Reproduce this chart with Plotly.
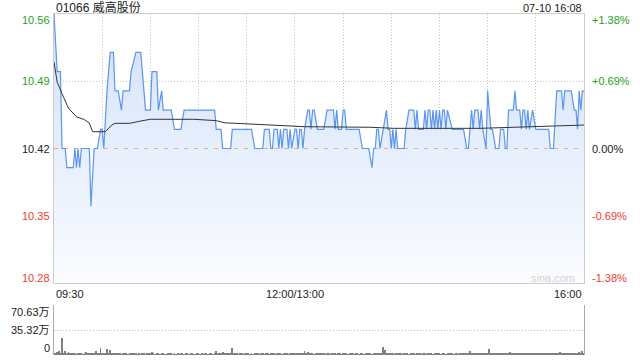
import plotly.graph_objects as go

# ---------------- data ----------------
title_text = "01066 威高股份"
date_text = "07-10 16:08"
prev_close = 10.42
price_ticks = [10.56, 10.49, 10.42, 10.35, 10.28]
pct_ticks = ["+1.38%", "+0.69%", "0.00%", "-0.69%", "-1.38%"]
time_labels = ["09:30", "12:00/13:00", "16:00"]
time_label_pos = [0, 150, 330]
vol_ticks = [70.63, 35.32, 0]
vol_tick_text = ["70.63万", "35.32万", "0"]

# (minute since 09:30 trading time, price)
price_points = [
    (0, 10.56), (2, 10.50), (4, 10.50), (5, 10.42), (7, 10.42), (8, 10.40), (12, 10.40),
    (13, 10.42), (14, 10.40), (15, 10.42), (16, 10.40), (17, 10.42), (22, 10.42), (23, 10.36),
    (25, 10.42), (27, 10.42), (29, 10.44), (30, 10.44), (31, 10.42), (33, 10.48), (35, 10.52),
    (37, 10.52), (38, 10.48), (40, 10.48), (42, 10.46), (43, 10.48), (47, 10.48), (48, 10.50),
    (51, 10.52), (54, 10.52), (57, 10.46), (60, 10.46), (61, 10.50), (64, 10.50), (65, 10.46),
    (67, 10.48), (68, 10.46), (73, 10.46), (75, 10.44), (79, 10.44), (81, 10.46), (100, 10.46),
    (101, 10.44), (104, 10.44), (105, 10.42), (110, 10.42), (111, 10.44), (123, 10.44),
    (125, 10.42), (130, 10.42), (131, 10.44), (134, 10.44), (135, 10.42), (136, 10.42),
    (137, 10.44), (139, 10.44), (140, 10.42), (141, 10.44), (142, 10.42), (143, 10.44),
    (145, 10.44), (146, 10.42), (147, 10.44), (148, 10.42), (150, 10.44), (151, 10.44),
    (152, 10.42), (153, 10.44), (154, 10.44), (155, 10.42), (156, 10.44), (158, 10.46),
    (159, 10.46), (160, 10.44), (161, 10.46), (162, 10.46), (164, 10.44), (168, 10.44),
    (170, 10.46), (174, 10.46), (175, 10.44), (176, 10.46), (177, 10.44), (179, 10.44),
    (180, 10.46), (181, 10.46), (182, 10.44), (190, 10.44), (192, 10.42), (196, 10.42),
    (198, 10.40), (199, 10.42), (200, 10.42), (201, 10.44), (202, 10.44), (203, 10.42),
    (205, 10.44), (207, 10.46), (208, 10.44), (209, 10.44), (210, 10.42), (211, 10.44),
    (212, 10.42), (213, 10.44), (214, 10.42), (218, 10.42), (219, 10.44), (221, 10.46),
    (224, 10.46), (225, 10.44), (226, 10.46), (227, 10.44), (230, 10.44), (231, 10.46),
    (232, 10.44), (233, 10.46), (234, 10.46), (235, 10.44), (236, 10.46), (237, 10.44),
    (238, 10.46), (239, 10.44), (240, 10.46), (241, 10.44), (242, 10.46), (243, 10.46),
    (244, 10.44), (245, 10.46), (248, 10.44), (255, 10.44), (257, 10.42), (258, 10.42),
    (260, 10.46), (261, 10.44), (262, 10.46), (264, 10.46), (265, 10.44), (266, 10.46),
    (267, 10.44), (269, 10.42), (270, 10.48), (272, 10.44), (273, 10.44), (275, 10.42),
    (277, 10.42), (278, 10.44), (280, 10.44), (281, 10.42), (282, 10.42), (283, 10.46),
    (286, 10.46), (287, 10.48), (288, 10.46), (290, 10.46), (291, 10.44), (292, 10.46),
    (293, 10.46), (294, 10.44), (295, 10.46), (296, 10.44), (298, 10.46), (300, 10.44),
    (308, 10.44), (309, 10.42), (311, 10.42), (313, 10.48), (316, 10.48), (317, 10.46),
    (318, 10.48), (322, 10.48), (324, 10.46), (325, 10.46), (326, 10.44), (327, 10.48),
    (328, 10.46), (329, 10.48), (330, 10.48),
]

avg_points = [
    (0, 10.510), (2, 10.489), (5, 10.477), (9, 10.462), (14, 10.453), (19, 10.450),
    (22, 10.4465), (24, 10.4375), (32, 10.4375), (36, 10.4445), (38, 10.4462), (47, 10.4462),
    (54, 10.4486), (60, 10.4504), (87, 10.4504), (101, 10.449), (106, 10.4468), (125, 10.4452),
    (156, 10.4427), (197, 10.4421), (212, 10.441), (265, 10.441), (278, 10.4416),
    (321, 10.4434), (330, 10.4444),
]

# volume per minute, 万
volume = [
    3.5, 2.0, 4.2, 5.6, 2.5, 24.0, 3.0, 5.5, 2.2, 4.2, 1.8, 2.0, 1.5, 2.4, 1.3, 1.8, 2.2, 1.6, 1.4, 2.0, 4.2, 1.5, 1.8, 2.6, 1.7, 2.1, 5.6, 2.0, 1.6, 9.9,
    2.2, 3.0, 1.8, 8.5, 2.4, 7.0, 2.0, 3.2, 1.6, 2.3, 1.8, 2.9, 1.4, 1.6, 2.2, 1.5, 1.3, 2.0, 2.6, 1.7, 1.5, 2.1, 1.4, 1.8, 1.2, 2.4, 1.6, 1.3, 1.9, 2.2,
    1.5, 4.2, 1.8, 1.4, 2.0, 1.6, 1.3, 1.7, 2.3, 1.4, 1.2, 1.8, 1.5, 2.1, 1.3, 1.6, 1.2, 1.9, 1.4, 1.7, 2.2, 1.3, 1.5, 1.8, 1.2, 1.6, 2.0, 1.4, 1.3, 1.7,
    1.5, 1.2, 1.9, 1.4, 1.6, 2.1, 1.3, 1.5, 1.8, 1.2, 2.3, 5.6, 1.7, 2.4, 1.5, 4.2, 2.0, 1.6, 2.8, 1.8, 2.2, 9.9, 2.5, 1.7, 1.9, 1.4, 2.2, 1.6, 1.3, 1.8,
    1.5, 2.0, 1.4, 1.7, 1.3, 1.9, 1.6, 2.2, 1.4, 1.5, 1.8, 1.3, 2.4, 1.6, 1.4, 1.9, 1.5, 2.1, 1.3, 1.7, 1.6, 2.3, 1.4, 1.8, 1.5, 2.0, 1.3, 1.7, 2.2, 1.6,
    2.4, 1.8, 2.0, 1.5, 2.6, 1.7, 5.6, 2.1, 4.2, 1.8, 1.6, 2.3, 1.4, 1.9, 1.7, 2.8, 1.5, 1.8, 2.0, 1.4, 1.6, 2.2, 1.3, 1.7, 1.5, 2.0, 1.4, 1.8, 1.6, 1.3,
    1.9, 1.5, 2.1, 1.4, 1.7, 1.6, 2.2, 1.3, 1.8, 1.5, 1.4, 2.0, 1.6, 1.3, 1.9, 1.7, 1.5, 2.2, 1.4, 1.8, 1.6, 2.1, 1.5, 2.4, 3.0, 11.3, 7.0, 2.2, 1.8, 2.5,
    1.6, 2.0, 1.4, 1.8, 1.5, 2.2, 1.7, 1.3, 1.9, 1.6, 2.1, 1.4, 1.8, 1.5, 2.0, 1.3, 1.7, 1.6, 2.3, 1.4, 1.5, 1.9, 1.3, 1.8, 1.6, 2.2, 1.4, 1.7, 1.5, 2.0,
    1.8, 1.4, 2.1, 1.6, 1.3, 1.9, 1.5, 1.7, 2.2, 1.4, 1.6, 1.8, 1.3, 2.0, 1.5, 1.7, 1.9, 2.4, 1.6, 5.6, 2.0, 1.5, 1.8, 2.3, 1.6, 2.6, 1.9, 2.1, 1.7, 2.8,
    3.0, 8.5, 2.4, 1.8, 2.2, 1.6, 2.0, 2.5, 1.7, 2.1, 1.9, 2.3, 1.6, 2.0, 4.2, 2.4, 1.8, 2.2, 2.6, 1.7, 2.0, 1.9, 2.3, 1.6, 2.1, 2.5, 1.8, 2.2, 1.9, 2.4,
    2.0, 2.6, 1.8, 2.3, 2.1, 2.7, 1.9, 2.4, 2.2, 2.8, 2.0, 2.5, 2.3, 2.9, 2.1, 4.2, 2.6, 2.2, 3.0, 2.4, 2.7, 3.2, 2.5, 2.9, 3.1, 2.6, 3.3, 4.2, 2.8, 5.6, 3.0,
]

# ---------------- figure ----------------
px_m = [p[0] for p in price_points]
px_v = [p[1] for p in price_points]
av_m = [p[0] for p in avg_points]
av_v = [p[1] for p in avg_points]

GREEN = "#22a322"
RED = "#ee3b2f"
BLACK = "#222222"
FONT = "Arial, 'Liberation Sans', 'Noto Sans CJK SC', sans-serif"
GRID_DASH = "1px,2px"

fig = go.Figure()

# fill area
fig.add_trace(go.Scatter(
    x=px_m, y=px_v, mode="lines", line=dict(width=0), fill="tozeroy",
    fillgradient=dict(type="vertical", start=price_ticks[-1], stop=price_ticks[0],
                      colorscale=[[0, "rgb(250,252,255)"], [1, "rgb(210,225,249)"]]),
    xaxis="x", yaxis="y", hoverinfo="skip", showlegend=False))

# previous close dashed line
fig.add_trace(go.Scatter(
    x=[0, 330], y=[prev_close, prev_close], mode="lines",
    line=dict(color="#eeaa8c", width=1, dash="4px,6px"),
    xaxis="x", yaxis="y", hoverinfo="skip", showlegend=False))

# price line
fig.add_trace(go.Scatter(
    x=px_m, y=px_v, mode="lines", line=dict(color="#5a95ee", width=1.2),
    xaxis="x", yaxis="y", showlegend=False))

# average line
fig.add_trace(go.Scatter(
    x=av_m, y=av_v, mode="lines", line=dict(color="#333333", width=1),
    xaxis="x", yaxis="y", showlegend=False))

# volume bars
fig.add_trace(go.Bar(
    x=list(range(len(volume))), y=volume, width=0.5,
    marker=dict(color="#808080", line=dict(width=0)),
    xaxis="x2", yaxis="y2", showlegend=False))

L, R, T, B = 54, 56, 14, 5
H = 360 - T - B
W = 640 - L - R


def yp(py):
    return (360 - B - py) / H


def xp(px):
    return (px - L) / W


main_bottom = yp(283)
vol_top = yp(305)

fig.update_layout(
    width=640, height=360,
    margin=dict(l=L, r=R, t=T, b=B),
    paper_bgcolor="white", plot_bgcolor="rgba(0,0,0,0)",
    font=dict(family=FONT, size=11, color=BLACK),
    bargap=0,
    xaxis=dict(domain=[0, 1], range=[0, 330], showticklabels=False, ticks="",
               tickvals=[30 * i for i in range(1, 11)], showgrid=True,
               gridcolor="#c4c4c4", griddash=GRID_DASH, gridwidth=1,
               showline=True, mirror=True, linecolor="#cccccc", linewidth=1,
               zeroline=False, fixedrange=True),
    yaxis=dict(domain=[main_bottom, 1], range=[price_ticks[-1], price_ticks[0]],
               showticklabels=False, ticks="",
               tickvals=[price_ticks[1], price_ticks[3]], showgrid=True,
               gridcolor="#c4c4c4", griddash=GRID_DASH, gridwidth=1,
               showline=True, mirror=True, linecolor="#cccccc", linewidth=1,
               zeroline=False, fixedrange=True),
    xaxis2=dict(domain=[0, 1], range=[0, 330], anchor="y2", showticklabels=False,
                ticks="", showgrid=False, showline=False, zeroline=False),
    yaxis2=dict(domain=[0, vol_top], range=[0, vol_ticks[0]], anchor="x2",
                showticklabels=False, ticks="", tickvals=vol_ticks[:2],
                showgrid=True, gridcolor="#b8b8b8", griddash=GRID_DASH, gridwidth=1,
                showline=True, mirror=True, linecolor="#aaaaaa", linewidth=1,
                zeroline=False),
)

ann = []
# title and date
ann.append(dict(text=title_text, xref="paper", yref="paper", x=0, y=yp(7.5),
                xanchor="left", yanchor="middle", showarrow=False,
                font=dict(size=12, color=BLACK)))
ann.append(dict(text=date_text, xref="paper", yref="paper", x=1, y=yp(7.5),
                xanchor="right", yanchor="middle", showarrow=False,
                font=dict(size=11, color=BLACK)))

# price and percent labels
shifts = [-6, 0, 0, 0, 5]
for i, (p, t) in enumerate(zip(price_ticks, pct_ticks)):
    col = GREEN if p > prev_close else (RED if p < prev_close else BLACK)
    ann.append(dict(text=f"{p:.2f}", xref="paper", yref="y", x=xp(52), y=p,
                    yshift=shifts[i], xanchor="right", yanchor="middle",
                    showarrow=False, font=dict(size=11, color=col)))
    ann.append(dict(text=t, xref="paper", yref="y", x=xp(590), y=p,
                    yshift=shifts[i], xanchor="left", yanchor="middle",
                    showarrow=False, font=dict(size=11, color=col)))

# time labels
anchors = ["left", "center", "right"]
for t, pos, a in zip(time_labels, time_label_pos, anchors):
    ann.append(dict(text=t, xref="x", yref="paper", x=pos, y=yp(293.5),
                    xanchor=a, yanchor="middle", showarrow=False,
                    font=dict(size=11, color=BLACK)))

# volume labels
vshifts = [-7, 0, 7]
for v, t, s in zip(vol_ticks, vol_tick_text, vshifts):
    ann.append(dict(text=t, xref="paper", yref="y2", x=xp(52), y=v, yshift=s,
                    xanchor="right", yanchor="middle", showarrow=False,
                    font=dict(size=11, color=BLACK)))

# watermark
ann.append(dict(text="sina.com", xref="paper", yref="paper", x=xp(553), y=yp(277.5),
                xanchor="center", yanchor="middle", showarrow=False,
                font=dict(size=11, color="#d2d2d2")))

fig.update_layout(annotations=ann)

fig.write_html("out.html", include_plotlyjs=True, config={"displayModeBar": False})
